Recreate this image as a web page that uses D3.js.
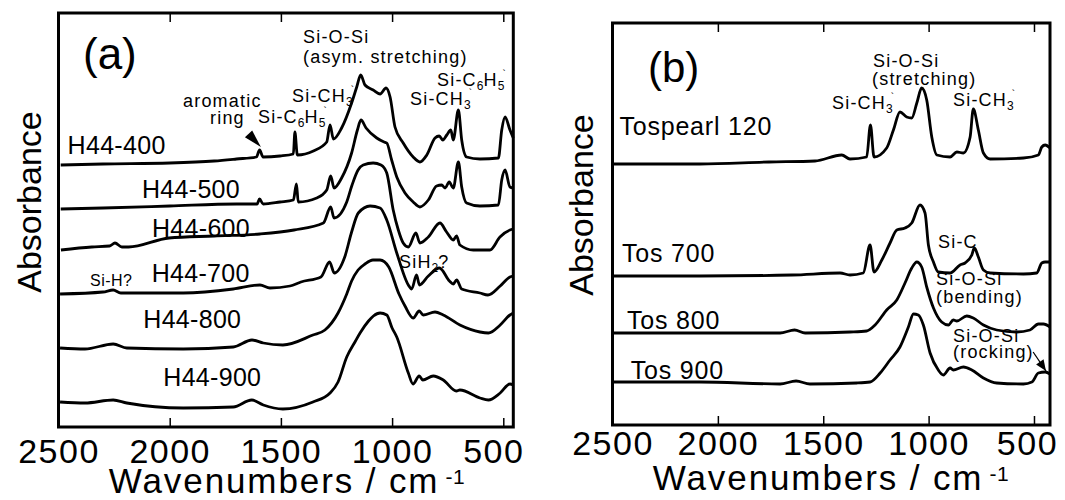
<!DOCTYPE html>
<html>
<head>
<meta charset="utf-8">
<script src="https://cdn.jsdelivr.net/npm/d3@7"></script>
<style>
  body { margin: 0; background: #fff; }
  svg { display: block; font-family: "Liberation Sans", Arial, sans-serif; }
</style>
</head>
<body>
<svg id="chart" width="1065" height="500"></svg>
<script>
// tick labels (wavenumber, cm-1)
const xTickValues = [2500, 2000, 1500, 1000, 500];

// panel (a): [wavenumber, absorbance (offset, a.u.)]
const h44_400 = [[2490,2.62],[2300,2.63],[2000,2.64],[1800,2.66],[1700,2.68],[1610,2.70],[1596,2.77],[1580,2.70],[1504,2.71],[1444,2.73],[1437,2.95],[1426,2.72],[1354,2.76],[1294,2.85],[1279,3.02],[1264,2.88],[1227,2.99],[1182,3.24],[1159,3.40],[1141,3.52],[1122,3.42],[1085,3.37],[1054,3.33],[1027,3.39],[1009,3.30],[987,3.00],[950,2.84],[905,2.70],[875,2.65],[844,2.72],[807,2.89],[788,2.91],[772,2.87],[754,2.92],[736,2.97],[725,2.87],[702,3.17],[687,2.87],[665,2.70],[605,2.68],[522,2.69],[507,2.97],[492,3.10],[470,2.97],[455,2.89]];
const h44_500 = [[2490,2.18],[2300,2.19],[2000,2.21],[1700,2.23],[1607,2.23],[1596,2.28],[1580,2.23],[1504,2.25],[1444,2.27],[1430,2.43],[1422,2.25],[1339,2.29],[1294,2.37],[1276,2.51],[1261,2.39],[1227,2.49],[1182,2.74],[1156,2.97],[1140,3.07],[1117,2.99],[1069,2.89],[1036,2.85],[1024,2.84],[1002,2.67],[979,2.50],[942,2.34],[905,2.25],[875,2.20],[837,2.27],[800,2.41],[777,2.42],[762,2.39],[743,2.45],[725,2.39],[702,2.65],[687,2.40],[665,2.24],[605,2.21],[522,2.22],[507,2.47],[492,2.57],[470,2.40],[455,2.39]];
const h44_600 = [[2489,1.77],[2350,1.80],[2270,1.81],[2246,1.84],[2215,1.80],[2185,1.80],[2003,1.89],[1800,1.91],[1594,1.93],[1441,1.97],[1309,2.04],[1276,2.20],[1261,2.09],[1204,2.25],[1180,2.42],[1153,2.57],[1130,2.62],[1085,2.64],[1050,2.62],[1024,2.54],[995,2.17],[972,1.97],[950,1.84],[927,1.80],[893,1.94],[875,1.84],[837,1.90],[785,2.04],[755,1.95],[725,1.87],[710,1.91],[695,1.82],[635,1.77],[560,1.77],[515,1.90],[470,1.97],[455,1.98]];
const h44_700 = [[2493,1.33],[2300,1.35],[2254,1.37],[2220,1.34],[2193,1.34],[1939,1.34],[1714,1.38],[1594,1.42],[1549,1.39],[1459,1.41],[1410,1.45],[1320,1.50],[1281,1.65],[1260,1.54],[1213,1.70],[1182,1.95],[1152,2.14],[1099,2.21],[1054,2.19],[1024,2.07],[979,1.74],[927,1.42],[912,1.38],[890,1.52],[877,1.42],[837,1.51],[787,1.59],[742,1.46],[725,1.43],[710,1.47],[687,1.38],[605,1.34],[569,1.32],[514,1.41],[470,1.50],[455,1.51]];
const h44_800 = [[2493,0.79],[2381,0.78],[2254,0.83],[2193,0.79],[1939,0.78],[1714,0.80],[1630,0.87],[1579,0.84],[1491,0.82],[1356,0.92],[1302,0.97],[1243,1.14],[1204,1.33],[1182,1.46],[1153,1.57],[1122,1.63],[1086,1.67],[1054,1.67],[1015,1.60],[969,1.33],[942,1.21],[905,1.09],[878,1.16],[860,1.12],[807,1.15],[770,1.12],[695,1.02],[605,0.95],[567,0.94],[514,1.02],[470,1.12],[455,1.14]];
const h44_900 = [[2493,0.25],[2381,0.24],[2254,0.27],[2193,0.24],[1939,0.19],[1714,0.20],[1631,0.27],[1579,0.22],[1491,0.18],[1356,0.25],[1279,0.34],[1243,0.45],[1204,0.70],[1167,0.85],[1144,0.94],[1106,1.06],[1084,1.11],[1054,1.14],[1024,1.12],[1000,0.99],[979,0.90],[927,0.54],[906,0.43],[878,0.51],[862,0.47],[815,0.51],[770,0.47],[711,0.36],[695,0.37],[605,0.29],[567,0.27],[514,0.34],[470,0.43],[455,0.42]];

// panel (b)
const tospearl = [[2495,2.61],[2085,2.61],[1758,2.63],[1539,2.64],[1412,2.70],[1373,2.66],[1294,2.68],[1276,3.00],[1259,2.68],[1199,2.77],[1167,2.95],[1136,3.13],[1104,3.08],[1080,3.07],[1056,3.22],[1033,3.37],[1009,3.25],[985,2.88],[961,2.70],[898,2.68],[866,2.73],[835,2.72],[803,2.88],[788,3.16],[764,2.95],[740,2.72],[708,2.66],[550,2.67],[479,2.70],[463,2.78],[447,2.80],[424,2.77]];
const tos700 = [[2495,1.49],[2085,1.49],[1648,1.50],[1420,1.52],[1373,1.50],[1310,1.52],[1278,1.80],[1259,1.53],[1222,1.65],[1183,1.82],[1151,1.95],[1112,1.97],[1080,2.02],[1041,2.20],[1017,2.12],[1001,1.80],[977,1.63],[954,1.53],[898,1.52],[851,1.60],[827,1.62],[795,1.70],[783,1.77],[764,1.68],[740,1.55],[708,1.52],[550,1.51],[487,1.52],[463,1.62],[447,1.63],[424,1.63]];
const tos800 = [[2495,0.92],[2085,0.92],[1705,0.92],[1636,0.95],[1586,0.92],[1373,0.93],[1294,0.94],[1254,1.00],[1199,1.15],[1151,1.25],[1112,1.42],[1080,1.57],[1056,1.63],[1033,1.58],[1009,1.38],[977,1.17],[938,1.03],[906,1.00],[883,1.05],[866,1.04],[819,1.09],[788,1.07],[740,1.00],[677,0.95],[582,0.93],[519,0.95],[479,1.01],[455,1.01],[424,0.98]];
const tos900 = [[2495,0.43],[2085,0.43],[1705,0.41],[1629,0.44],[1563,0.41],[1341,0.42],[1278,0.43],[1230,0.52],[1183,0.65],[1136,0.78],[1096,0.98],[1072,1.11],[1049,1.10],[1025,1.00],[993,0.72],[954,0.55],[930,0.50],[898,0.57],[883,0.55],[835,0.58],[795,0.55],[740,0.47],[677,0.42],[550,0.41],[510,0.43],[479,0.52],[447,0.53],[424,0.51]];

// arrows: [tail, tip] in data units
const arrowA = [[1645, 2.93], [1590, 2.80]];
const arrowB = [[504, 0.73], [443, 0.54]];

const svg = d3.select("#chart");

const SIC6H5 = [["Si-C"], ["6", "sub"], ["H"], ["5", "sub"], ["`", "mark"]];
const SICH3 = [["Si-CH"], ["3", "sub"], ["`", "mark"]];

const panels = [
  {
    left: 58.5, right: 513.3, top: 13, bottom: 427, xEnd: 455, yMax: 4.14,
    labelPad: 11.9, dx500: -10, tag: "(a)", tagX: 83, tagY: 69, tagSize: 44,
    yTitle: [40.5, 202], xTitle: [287, 493],
    series: [h44_400, h44_500, h44_600, h44_700, h44_800, h44_900],
    names: [["H44-400", 67.6, 154], ["H44-500", 142, 198], ["H44-600", 152, 237],
            ["H44-700", 151.7, 282.3], ["H44-800", 143.3, 328.3], ["H44-900", 163.3, 386]],
    notes: [
      [303, 43, [["Si-O-Si"]]],
      [303, 63, [["(asym. stretching)"]]],
      [183, 107, [["aromatic"]]],
      [210, 124, [["ring"]]],
      [258, 123, SIC6H5],
      [292, 102, SICH3],
      [437, 86, SIC6H5],
      [410, 105, SICH3],
      [399, 268, [["SiH"], ["2", "sub"], ["?"]]],
      [90, 286, [["Si-H?"]], 16]
    ]
  },
  {
    left: 612.5, right: 1050, top: 23, bottom: 425, xEnd: 424, yMax: 4.02,
    labelPad: 5.9, dx500: -7, tag: "(b)", tagX: 648, tagY: 82, tagSize: 42,
    yTitle: [593, 205], xTitle: [831, 490],
    series: [tospearl, tos700, tos800, tos900],
    names: [["Tospearl 120", 619.4, 135], ["Tos 700", 622, 262.4], ["Tos 800", 627, 329], ["Tos 900", 630.7, 378.5]],
    notes: [
      [873, 67, [["Si-O-Si"]]],
      [872, 85, [["(stretching)"]]],
      [832, 109, SICH3],
      [953, 106, SICH3],
      [938, 248, [["Si-C"]]],
      [936, 285, [["Si-O-Si"]]],
      [936, 303, [["(bending)"]]],
      [953, 342, [["Si-O-Si"]]],
      [953, 358, [["(rocking)"]]]
    ]
  }
];

function note(x, y, parts, size) {
  const fs = size || 18;
  const t = svg.append("text").attr("x", x).attr("y", y)
    .style("font-size", fs + "px").style("letter-spacing", size ? "0.5px" : "1.2px").attr("fill", "#000");
  let shift = 0;
  parts.forEach(([s, kind]) => {
    const sp = t.append("tspan").text(s);
    if (kind === "sub") {
      sp.attr("dy", 4 - shift).style("font-size", "12px").style("letter-spacing", "0px");
      shift = 4;
    } else if (kind === "mark") {
      sp.attr("dx", -2).attr("dy", -8 - shift).style("font-size", "10px").style("letter-spacing", "0px");
      shift = -8;
    } else {
      if (shift !== 0) sp.attr("dy", -shift);
      shift = 0;
    }
  });
}

function head(p0, p1, len, half) {
  const dx = p1[0] - p0[0], dy = p1[1] - p0[1];
  const n = Math.hypot(dx, dy), ux = dx / n, uy = dy / n;
  const bx = p1[0] - ux * len, by = p1[1] - uy * len;
  return `M${p1[0]},${p1[1]}L${bx - uy * half},${by + ux * half}L${bx + uy * half},${by - ux * half}Z`;
}

panels.forEach((p, i) => {
  const x = d3.scaleLinear().domain([2500, p.xEnd]).range([p.left, p.right]);
  const y = d3.scaleLinear().domain([0, p.yMax]).range([p.bottom, p.top]);
  const g = svg.append("g");

  const line = d3.line()
    .x(d => x(d[0]))
    .y(d => y(d[1]))
    .curve(d3.curveMonotoneX);

  g.selectAll("path.spec")
    .data(p.series)
    .enter().append("path")
      .attr("class", "spec")
      .attr("d", line)
      .attr("fill", "none")
      .attr("stroke", "#000")
      .attr("stroke-width", 2.8)
      .attr("stroke-linejoin", "round");

  // bottom axis, ticks pointing inward
  const ax = g.append("g")
    .attr("transform", `translate(0,${p.bottom})`)
    .call(d3.axisBottom(x).tickValues(xTickValues).tickFormat(d3.format("d"))
      .tickSizeInner(-9).tickSizeOuter(0).tickPadding(p.labelPad));
  ax.select(".domain").remove();
  ax.selectAll("line").attr("stroke", "#000").attr("stroke-width", 1.5);
  ax.selectAll("text")
    .attr("fill", "#000")
    .style("font-family", "'Liberation Sans', Arial, sans-serif")
    .style("font-size", "34px")
    .style("letter-spacing", "1.5px");
  ax.selectAll("text").filter(d => d === 500).attr("dx", p.dx500);

  // top axis, ticks only
  const top = g.append("g")
    .attr("transform", `translate(0,${p.top})`)
    .call(d3.axisTop(x).tickValues(xTickValues).tickSizeInner(-9).tickSizeOuter(0).tickFormat(""));
  top.select(".domain").remove();
  top.selectAll("line").attr("stroke", "#000").attr("stroke-width", 1.5);

  // frame
  g.append("rect")
    .attr("x", p.left).attr("y", p.top)
    .attr("width", p.right - p.left).attr("height", p.bottom - p.top)
    .attr("fill", "none").attr("stroke", "#000").attr("stroke-width", 3);

  // titles
  svg.append("text")
    .attr("transform", `translate(${p.yTitle[0]},${p.yTitle[1]}) rotate(-90)`)
    .attr("text-anchor", "middle")
    .style("font-size", "34px")
    .text("Absorbance");

  const xt = svg.append("text")
    .attr("x", p.xTitle[0]).attr("y", p.xTitle[1])
    .attr("text-anchor", "middle")
    .style("font-size", "35px")
    .style("letter-spacing", "1.9px");
  xt.append("tspan").text("Wavenumbers / cm");
  xt.append("tspan").attr("dx", 6).attr("dy", -9).style("font-size", "21px").style("letter-spacing", "0.5px").text("-1");

  svg.append("text")
    .attr("x", p.tagX).attr("y", p.tagY)
    .style("font-size", p.tagSize + "px")
    .text(p.tag);

  // sample names
  p.names.forEach(([s, nx, ny]) => {
    svg.append("text").attr("x", nx).attr("y", ny)
      .style("font-size", "25px")
      .style("letter-spacing", i === 1 ? "0.8px" : "0.3px")
      .text(s);
  });

  // band assignments
  p.notes.forEach(([nx, ny, parts, size]) => note(nx, ny, parts, size));

  // arrows
  if (i === 0) {
    const a0 = [x(arrowA[0][0]), y(arrowA[0][1])], a1 = [x(arrowA[1][0]), y(arrowA[1][1])];
    g.append("path").attr("d", head(a0, a1, 18, 5)).attr("fill", "#000");
  } else {
    const b0 = [x(arrowB[0][0]), y(arrowB[0][1])], b1 = [x(arrowB[1][0]), y(arrowB[1][1])];
    g.append("line")
      .attr("x1", b0[0]).attr("y1", b0[1]).attr("x2", b1[0]).attr("y2", b1[1])
      .attr("stroke", "#000").attr("stroke-width", 1.3);
    g.append("path").attr("d", head(b0, b1, 11, 4.5)).attr("fill", "#000");
  }
});
</script>
</body>
</html>
